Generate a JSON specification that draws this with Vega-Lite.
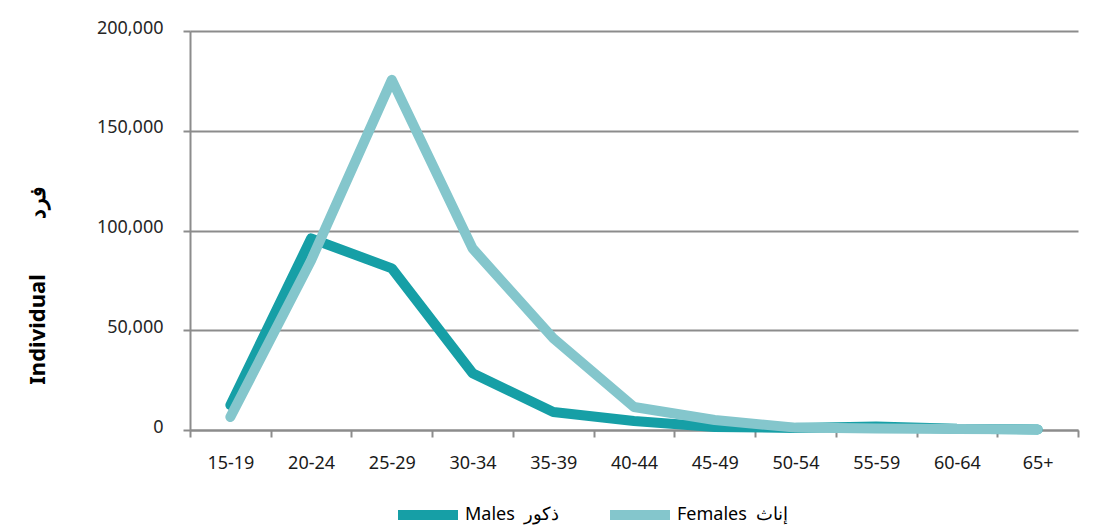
{
  "$schema": "https://vega.github.io/schema/vega-lite/v6.json",
  "autosize": {"type": "none"},
  "width": 888,
  "height": 399,
  "padding": {"left": 190, "top": 31, "right": 22, "bottom": 100},
  "background": "white",
  "config": {
    "view": {"stroke": null},
    "font": "Noto Sans"
  },
  "data": {
    "values": [
      {"age": "15-19", "sex": "Males\u00a0\u00a0ذكور", "value": 12500},
      {"age": "20-24", "sex": "Males\u00a0\u00a0ذكور", "value": 96000},
      {"age": "25-29", "sex": "Males\u00a0\u00a0ذكور", "value": 81000},
      {"age": "30-34", "sex": "Males\u00a0\u00a0ذكور", "value": 28500},
      {"age": "35-39", "sex": "Males\u00a0\u00a0ذكور", "value": 9000},
      {"age": "40-44", "sex": "Males\u00a0\u00a0ذكور", "value": 4500},
      {"age": "45-49", "sex": "Males\u00a0\u00a0ذكور", "value": 1500},
      {"age": "50-54", "sex": "Males\u00a0\u00a0ذكور", "value": 1000},
      {"age": "55-59", "sex": "Males\u00a0\u00a0ذكور", "value": 1800},
      {"age": "60-64", "sex": "Males\u00a0\u00a0ذكور", "value": 600},
      {"age": "65+", "sex": "Males\u00a0\u00a0ذكور", "value": 300},
      {"age": "15-19", "sex": "Females\u00a0\u00a0إناث", "value": 6500},
      {"age": "20-24", "sex": "Females\u00a0\u00a0إناث", "value": 85000},
      {"age": "25-29", "sex": "Females\u00a0\u00a0إناث", "value": 175500},
      {"age": "30-34", "sex": "Females\u00a0\u00a0إناث", "value": 91000},
      {"age": "35-39", "sex": "Females\u00a0\u00a0إناث", "value": 46000},
      {"age": "40-44", "sex": "Females\u00a0\u00a0إناث", "value": 11500},
      {"age": "45-49", "sex": "Females\u00a0\u00a0إناث", "value": 5000},
      {"age": "50-54", "sex": "Females\u00a0\u00a0إناث", "value": 1200},
      {"age": "55-59", "sex": "Females\u00a0\u00a0إناث", "value": 800},
      {"age": "60-64", "sex": "Females\u00a0\u00a0إناث", "value": 500},
      {"age": "65+", "sex": "Females\u00a0\u00a0إناث", "value": 300}
    ]
  },
  "encoding": {
    "x": {
      "field": "age",
      "type": "nominal",
      "sort": null,
      "bandPosition": 0.5,
      "scale": {"type": "band", "paddingInner": 0, "paddingOuter": 0},
      "axis": {
        "title": null,
        "labelAngle": 0,
        "labelFontSize": 18,
        "labelColor": "#1a1a1a",
        "labelPadding": 17,
        "tickBand": "extent",
        "tickSize": 7,
        "tickColor": "#8c8c8c",
        "tickWidth": 2,
        "domainColor": "#8c8c8c",
        "domainWidth": 2,
        "grid": false
      }
    },
    "y": {
      "field": "value",
      "type": "quantitative",
      "scale": {"domain": [0, 200000]},
      "axis": {
        "values": [0, 50000, 100000, 150000, 200000],
        "format": ",.0f",
        "title": "Individual\u2003\u2003\u2002فرد",
        "titleFontSize": 22,
        "titleFontWeight": "bold",
        "titleColor": "#000000",
        "titleAngle": -90,
        "titleAlign": "center",
        "titleBaseline": "middle",
        "titleX": -153,
        "titleY": 254,
        "labelFontSize": 18,
        "labelColor": "#262626",
        "labelPadding": 20,
        "labelOffset": -3,
        "tickSize": 7,
        "tickColor": "#8c8c8c",
        "tickWidth": 2,
        "domainColor": "#8c8c8c",
        "domainWidth": 2,
        "grid": true,
        "gridColor": "#8c8c8c",
        "gridWidth": 2
      }
    },
    "color": {
      "field": "sex",
      "type": "nominal",
      "scale": {
        "domain": ["Males\u00a0\u00a0ذكور", "Females\u00a0\u00a0إناث"],
        "range": ["#169fa6", "#84c6cc"]
      },
      "legend": {
        "title": null,
        "orient": "none",
        "direction": "horizontal",
        "legendX": 203,
        "legendY": 449,
        "symbolType": "stroke",
        "symbolSize": 3600,
        "symbolStrokeWidth": 10,
        "labelFontSize": 18,
        "labelColor": "#000000",
        "labelOffset": 2,
        "columnPadding": 30
      }
    }
  },
  "layer": [
    {
      "transform": [{"filter": "datum.sex == 'Males\u00a0\u00a0ذكور'"}],
      "mark": {"type": "line", "strokeWidth": 10, "strokeCap": "round", "strokeJoin": "round"}
    },
    {
      "transform": [{"filter": "datum.sex == 'Females\u00a0\u00a0إناث'"}],
      "mark": {"type": "line", "strokeWidth": 10, "strokeCap": "round", "strokeJoin": "round"}
    }
  ]
}
